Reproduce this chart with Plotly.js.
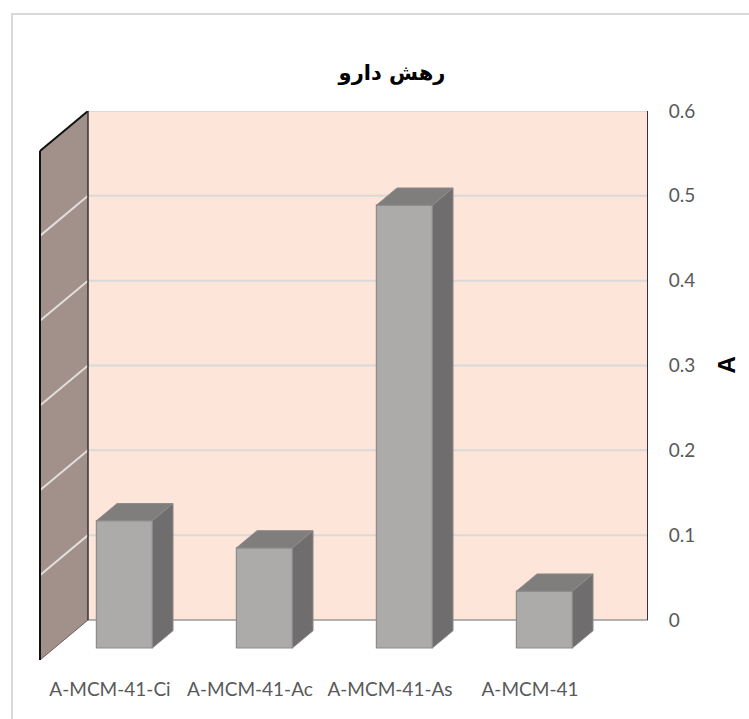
<!DOCTYPE html>
<html>
<head>
<meta charset="utf-8">
<script src="https://cdn.plot.ly/plotly-3.0.1.min.js"></script>
<style>
  html, body { margin: 0; padding: 0; background: #ffffff; overflow: hidden; }
  #frame { position: absolute; left: 11px; top: 13px; width: 760px; height: 720px;
           border: 2px solid #d9d9d9; box-sizing: border-box; pointer-events: none; }
  #chart { position: absolute; left: 0; top: 0; width: 749px; height: 719px; }
</style>
</head>
<body>
<div id="frame"></div>
<div id="chart"></div>
<script>
// Drug release (A) per sample
const categories = ['A-MCM-41-Ci', 'A-MCM-41-Ac', 'A-MCM-41-As', 'A-MCM-41'];
const values = [0.150, 0.118, 0.522, 0.067];
const valueTicks = [0, 0.1, 0.2, 0.3, 0.4, 0.5, 0.6];
const valueTickText = ['0', '0.1', '0.2', '0.3', '0.4', '0.5', '0.6'];
const chartTitle = 'رهش دارو';
const valueTitle = 'A';

// Oblique 3D projection: moving toward the viewer shifts left by DX and down by DY
const DX = 0.343;      // x-units for full floor depth
const DY = 0.0472;     // value-units for full floor depth
const FRONT = 0.70;    // depth of column front faces
const BACK = 0.27;     // depth of column back faces
const HALF = 0.2;      // half column width (category slot = 1)
const VMAX = valueTicks[valueTicks.length - 1];
const n = categories.length;

const pt = (x, y, d) => [x - d * DX, y - d * DY];
const path = pts => 'M' + pts.map(p => p[0] + ',' + p[1]).join(' L') + ' Z';

// Column faces
const frontX = [], topX = [], topY = [], sideX = [], sideY = [];
categories.forEach((c, i) => {
  const xl = i + 0.5 - HALF, xr = i + 0.5 + HALF, v = values[i];
  frontX.push(i + 0.5 - FRONT * DX);
  const top = [pt(xl, v, FRONT), pt(xr, v, FRONT), pt(xr, v, BACK), pt(xl, v, BACK), pt(xl, v, FRONT)];
  top.forEach(p => { topX.push(p[0]); topY.push(p[1]); });
  topX.push(null); topY.push(null);
  const side = [pt(xr, v, FRONT), pt(xr, 0, FRONT), pt(xr, 0, BACK), pt(xr, v, BACK), pt(xr, v, FRONT)];
  side.forEach(p => { sideX.push(p[0]); sideY.push(p[1]); });
  sideX.push(null); sideY.push(null);
});

const edge = '#8e8b8b';
const traces = [
  { type: 'bar', x: frontX, y: values, base: -FRONT * DY, width: 2 * HALF,
    marker: { color: '#adaaaa', line: { color: edge, width: 1.2 } }, hoverinfo: 'skip' },
  { type: 'scatter', mode: 'lines', x: topX, y: topY, fill: 'toself', fillcolor: '#807d7d',
    line: { color: edge, width: 1 }, hoverinfo: 'skip' },
  { type: 'scatter', mode: 'lines', x: sideX, y: sideY, fill: 'toself', fillcolor: '#6f6d6d',
    line: { color: edge, width: 1 }, hoverinfo: 'skip' }
];

// Walls and gridlines
const shapes = [];
const add = s => shapes.push(Object.assign({ xref: 'x', yref: 'y', layer: 'below' }, s));
// back wall
add({ type: 'path', path: path([[0, 0], [n, 0], [n, VMAX], [0, VMAX]]), fillcolor: '#fde5d9', line: { width: 0 } });
// side wall
add({ type: 'path', path: path([pt(0, 0, 1), [0, 0], [0, VMAX], pt(0, VMAX, 1)]), fillcolor: '#a2918a', line: { width: 0 } });
valueTicks.forEach((t, k) => {
  if (k > 0 && t < VMAX) {
    add({ type: 'line', x0: 0, y0: t, x1: n, y1: t, line: { color: '#d9d9d9', width: 2 } });
    const f = pt(0, t, 1);
    add({ type: 'line', x0: f[0], y0: f[1], x1: 0, y1: t, line: { color: '#e3dedc', width: 2 } });
  }
});
add({ type: 'line', x0: 0, y0: VMAX, x1: n, y1: VMAX, line: { color: '#d9d9d9', width: 2 } });
add({ type: 'line', x0: 0, y0: 0, x1: n, y1: 0, line: { color: '#9a9a9a', width: 1.5 } });
(() => {
  const b = pt(0, 0, 1), t = pt(0, VMAX, 1);
  add({ type: 'line', x0: b[0], y0: b[1], x1: 0, y1: 0, line: { color: '#6a5f5a', width: 1 } });
  add({ type: 'line', x0: b[0], y0: b[1], x1: t[0], y1: t[1], line: { color: '#111111', width: 2 } });
  add({ type: 'line', x0: t[0], y0: t[1], x1: 0, y1: VMAX, line: { color: '#111111', width: 2 } });
  add({ type: 'line', x0: 0, y0: 0, x1: 0, y1: VMAX, line: { color: '#333333', width: 1.5 } });
  add({ type: 'line', x0: n, y0: 0, x1: n, y1: VMAX, line: { color: '#333333', width: 2 } });
})();

const tickFont = { family: 'Lato, sans-serif', size: 19, color: '#595959' };

const layout = {
  width: 749, height: 719,
  margin: { l: 39, r: 101, t: 111, b: 59, autoexpand: false },
  paper_bgcolor: 'rgba(0,0,0,0)', plot_bgcolor: 'rgba(0,0,0,0)',
  showlegend: false,
  title: { text: chartTitle, xref: 'container', yref: 'container', x: 392 / 749, y: 1 - 73 / 719,
           xanchor: 'center', yanchor: 'middle',
           font: { family: 'DejaVu Sans, sans-serif', size: 21, color: '#000000', weight: 'bold' } },
  xaxis: { range: [-0.35, n], showgrid: false, zeroline: false, showline: false,
           tickmode: 'array', tickvals: categories.map((c, i) => i + 0.5 - DX), ticktext: categories,
           ticks: 'outside', ticklen: 12, tickcolor: 'rgba(0,0,0,0)', tickfont: tickFont, fixedrange: true },
  yaxis: { range: [-DY, VMAX], side: 'right', showgrid: false, zeroline: false, showline: false,
           tickmode: 'array', tickvals: valueTicks, ticktext: valueTickText,
           ticks: 'outside', ticklen: 16, tickcolor: 'rgba(0,0,0,0)', tickfont: tickFont, fixedrange: true },
  annotations: [
    { text: valueTitle, xref: 'paper', yref: 'y', x: (726 - 39) / 609, y: VMAX / 2,
      xanchor: 'center', yanchor: 'middle', showarrow: false, textangle: -90,
      font: { family: 'Liberation Sans, sans-serif', size: 24, color: '#000000', weight: 'bold' } }
  ],
  shapes: shapes,
  bargap: 0
};

Plotly.newPlot('chart', traces, layout, { displayModeBar: false, staticPlot: true });
</script>
</body>
</html>
